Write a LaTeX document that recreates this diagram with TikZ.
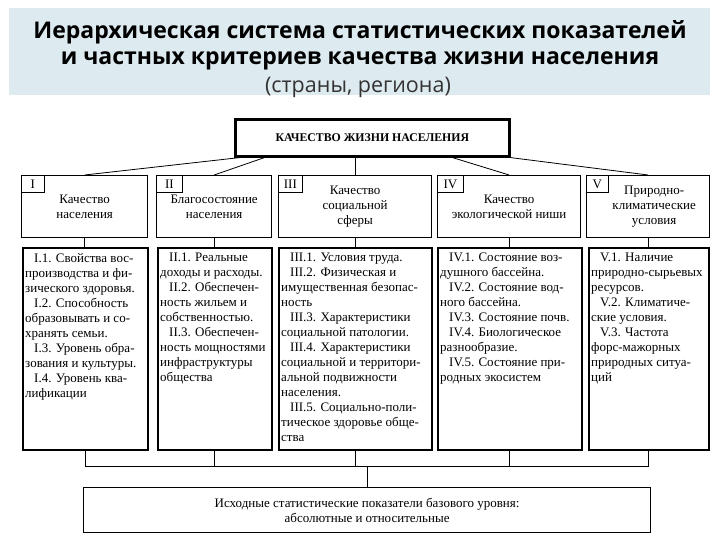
\documentclass[tikz,border=0pt]{standalone}
\usepackage{fontspec}
\setmainfont{Liberation Serif}
\newfontfamily\titlefont{Open Sans}
\usetikzlibrary{positioning, calc}
\definecolor{bandblue}{HTML}{DDEAF0}

\begin{document}
\begin{tikzpicture}[
  x=1pt, y=-1pt,
  font=\fontsize{13}{15}\selectfont,
  ttl/.style={font=\titlefont\bfseries\fontsize{23}{26}\selectfont},
  sub/.style={font=\titlefont\fontsize{21.5}{22}\selectfont, text=black!80},
  topbox/.style={draw, line width=2.6pt, minimum width=274, minimum height=37,
    anchor=north west, font=\bfseries\fontsize{11.8}{13}\selectfont},
  hdr/.style={draw, line width=1.3pt, minimum height=62, anchor=north west,
    align=center, inner sep=0, font=\fontsize{13}{15}\selectfont},
  tab/.style={draw, line width=0.8pt, anchor=north west, minimum height=17,
    inner sep=0},
  body/.style={draw, line width=1.5pt, minimum height=202, anchor=north west},
  txt/.style={anchor=north west, align=left, inner sep=0},
  link/.style={line width=0.8pt},
]
  \fill[white] (0,0) rectangle (720,540);
  \useasboundingbox (0,0) rectangle (720,540);

  % --- Title ---
  \fill[bandblue] (9,8) rectangle (710,95);
  \node[ttl] (t1) at (360,32) {Иерархическая система статистических показателей};
  \node[ttl] (t2) at (360,61) {и частных критериев качества жизни населения};
  \node[sub] (t3) at (358,87) {(страны, региона)};

  % --- Top level ---
  \node[topbox] (top) at (234,118) {КАЧЕСТВО ЖИЗНИ НАСЕЛЕНИЯ};

  % --- Headers ---
  \node[hdr, minimum width=126] (h1) at (21,175) {Качество\\населения};
  \node[hdr, minimum width=115] (h2) at (156,175) {Благосостояние\\населения};
  \node[hdr, minimum width=153] (h3) at (278,175) {Качество\\социальной\\сферы};
  \node[hdr, minimum width=143] (h4) at (437,175) {Качество\\экологической ниши};
  \node[hdr, minimum width=123] (h5) at (586,175) {\hspace*{12pt}Природно-\\\hspace*{12pt}климатические\\\hspace*{12pt}условия};

  \node[tab, minimum width=23] (n1) at (h1.north west) {I};
  \node[tab, minimum width=26] (n2) at (h2.north west) {II};
  \node[tab, minimum width=24] (n3) at (h3.north west) {III};
  \node[tab, minimum width=26] (n4) at (h4.north west) {IV};
  \node[tab, minimum width=22] (n5) at (h5.north west) {V};

  \draw[link] ($(top.south west)!0.02!(top.south east)$) -- (h1.north);
  \draw[link] ($(top.south west)!0.11!(top.south east)$) -- (h2.north);
  \draw[link] (top.south -| h3.north) -- (h3.north);
  \draw[link] ($(top.south west)!0.79!(top.south east)$) -- (h4.north);
  \draw[link] (top.south east) -- (h5.north);

  % --- Criteria ---
  \node[body, minimum width=125] (b1) at (22,247) {};
  \node[body, minimum width=114] (b2) at (157,247) {};
  \node[body, minimum width=153] (b3) at (278,247) {};
  \node[body, minimum width=144] (b4) at (437,247) {};
  \node[body, minimum width=120] (b5) at (588,247) {};

  \foreach \i in {1,...,5}
    \draw[link] (h\i.south) -- (h\i.south |- b\i.north);

  \node[txt] (c1) at ([shift={(3,6)}]b1.north west) {%
    \hspace*{9pt}I.1. Свойства вос-\\производства и фи-\\зического здоровья.\\
    \hspace*{9pt}I.2. Способность\\образовывать и со-\\хранять семьи.\\
    \hspace*{9pt}I.3. Уровень обра-\\зования и культуры.\\
    \hspace*{9pt}I.4. Уровень ква-\\лификации};
  \node[txt] (c2) at ([shift={(3,6)}]b2.north west) {%
    \hspace*{9pt}II.1. Реальные\\доходы и расходы.\\
    \hspace*{9pt}II.2. Обеспечен-\\ность жильем и\\собственностью.\\
    \hspace*{9pt}II.3. Обеспечен-\\ность мощностями\\инфраструктуры\\общества};
  \node[txt] (c3) at ([shift={(3,6)}]b3.north west) {%
    \hspace*{9pt}III.1. Условия труда.\\
    \hspace*{9pt}III.2. Физическая и\\имущественная безопас-\\ность\\
    \hspace*{9pt}III.3. Характеристики\\социальной патологии.\\
    \hspace*{9pt}III.4. Характеристики\\социальной и территори-\\альной подвижности\\населения.\\
    \hspace*{9pt}III.5. Социально-поли-\\тическое здоровье обще-\\ства};
  \node[txt] (c4) at ([shift={(3,6)}]b4.north west) {%
    \hspace*{9pt}IV.1. Состояние воз-\\душного бассейна.\\
    \hspace*{9pt}IV.2. Состояние вод-\\ного бассейна.\\
    \hspace*{9pt}IV.3. Состояние почв.\\
    \hspace*{9pt}IV.4. Биологическое\\разнообразие.\\
    \hspace*{9pt}IV.5. Состояние при-\\родных экосистем};
  \node[txt] (c5) at ([shift={(3,6)}]b5.north west) {%
    \hspace*{9pt}V.1. Наличие\\природно-сырьевых\\ресурсов.\\
    \hspace*{9pt}V.2. Климатиче-\\ские условия.\\
    \hspace*{9pt}V.3. Частота\\форс-мажорных\\природных ситуа-\\ций};

  % --- Base level ---
  \coordinate (bus) at (0,466);
  \node[draw, line width=1.2pt, minimum width=567, minimum height=45,
    anchor=north west, align=center] (base) at (83,487)
    {Исходные статистические показатели базового уровня:\\абсолютные и относительные};

  \draw[link] (b1.south) |- (b5.south |- bus) -- (b5.south);
  \foreach \i in {2,3,4}
    \draw[link] (b\i.south) -- (b\i.south |- bus);
  \draw[link] (base.north |- bus) -- (base.north);

\end{tikzpicture}
\end{document}
